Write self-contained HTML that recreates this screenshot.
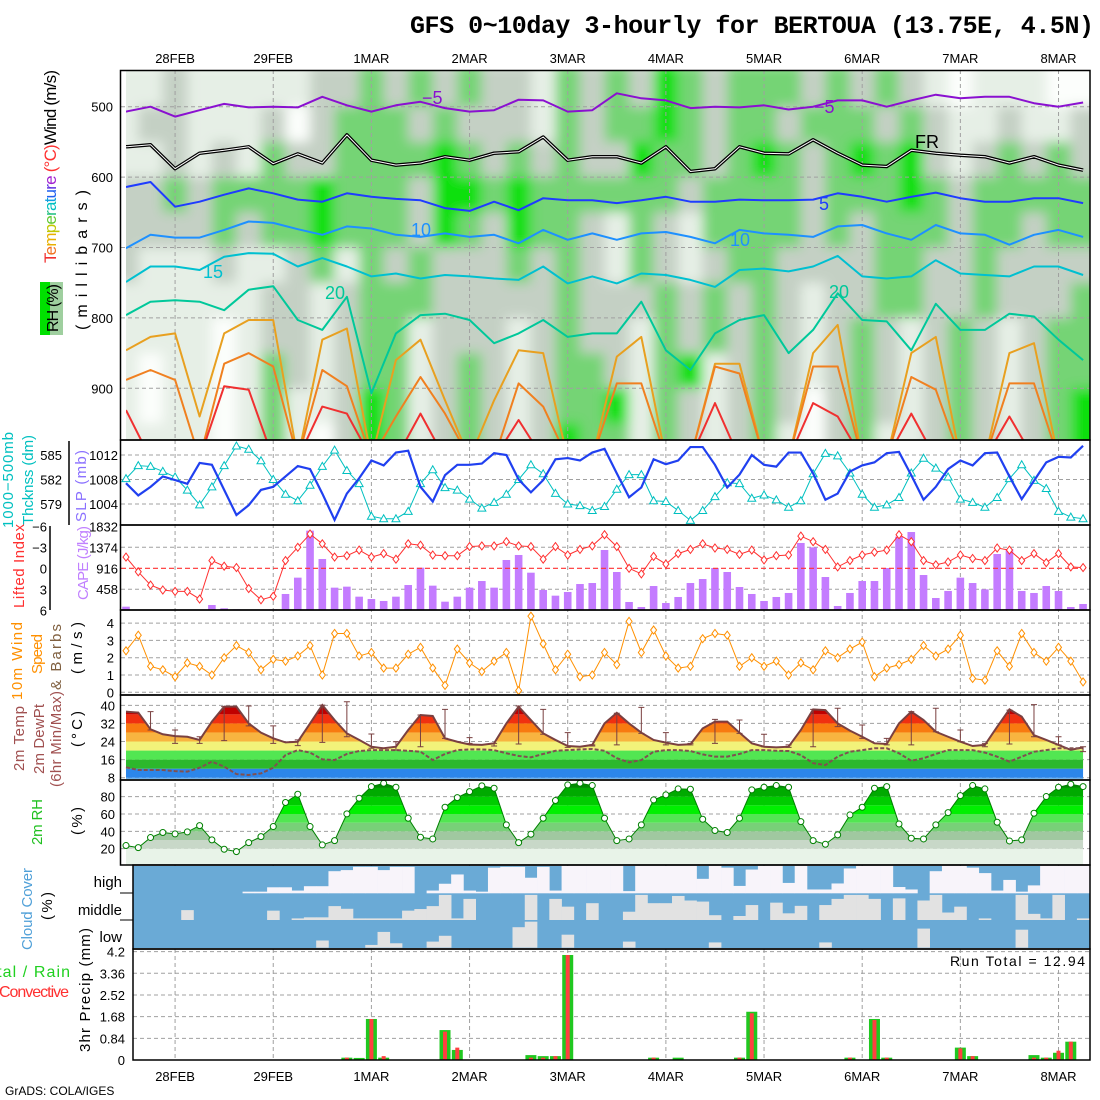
<!DOCTYPE html>
<html><head><meta charset="utf-8"><style>
html,body{margin:0;padding:0;background:#fff;}
svg{display:block;font-family:"Liberation Sans",sans-serif;}
</style></head><body>
<svg id="chart" width="1100" height="1100" viewBox="0 0 1100 1100" xmlns="http://www.w3.org/2000/svg">
<defs>
<filter id="blurf" x="-5%" y="-5%" width="110%" height="110%"><feGaussianBlur stdDeviation="6 6"/></filter>
<clipPath id="cp1"><rect x="126" y="70.5" width="964" height="369.5"/></clipPath>
<clipPath id="cp2"><rect x="121" y="441" width="969" height="84"/></clipPath>
<clipPath id="cp3"><rect x="121" y="526" width="969" height="84"/></clipPath>
<clipPath id="cp4"><rect x="121" y="611" width="969" height="84"/></clipPath>
<clipPath id="cpT"></clipPath>
<clipPath id="cpR"></clipPath>
</defs>
<rect x="0" y="0" width="1100" height="1100" fill="#fff"/>
<text x="410" y="33" font-family="Liberation Mono, monospace" font-weight="bold" font-size="25" textLength="684">GFS 0~10day 3-hourly for BERTOUA (13.75E, 4.5N)</text>
<g id="heat" clip-path="url(#cp1)"><g id="heatInner" filter="url(#blurf)"></g></g>
<g id="grid"></g>
<g id="marks"></g>
<g id="frames" fill="none" stroke="#000" stroke-width="1.5">
<rect x="120.5" y="70.5" width="969.5" height="369.5"/>
<rect x="120.5" y="440" width="969.5" height="85"/>
<rect x="120.5" y="525" width="969.5" height="85"/>
<rect x="120.5" y="610" width="969.5" height="85"/>
<rect x="120.5" y="695" width="969.5" height="85"/>
<rect x="120.5" y="780" width="969.5" height="85"/>
<rect x="133" y="865" width="957" height="84"/>
<rect x="133" y="949" width="957" height="111"/>
<line x1="69" y1="441" x2="69" y2="525"/>
<line x1="50" y1="526" x2="50" y2="610"/>
<line x1="120" y1="893" x2="133" y2="893" stroke-width="1"/>
<line x1="120" y1="920" x2="133" y2="920" stroke-width="1"/>
</g>
<g id="labels" font-size="15">
<text transform="translate(56,263) rotate(-90)" font-size="17" textLength="193"><tspan fill="#f03030">T</tspan><tspan fill="#f07020">e</tspan><tspan fill="#e8b000">m</tspan><tspan fill="#c0c800">p</tspan><tspan fill="#60c830">e</tspan><tspan fill="#20c080">r</tspan><tspan fill="#00c0c0">a</tspan><tspan fill="#10a0e0">t</tspan><tspan fill="#2060f0">u</tspan><tspan fill="#6030e0">r</tspan><tspan fill="#a020d0">e</tspan><tspan fill="#ff3030"> (°C)</tspan><tspan fill="#000">Wind (m/s)</tspan></text>
<rect x="40" y="282" width="23" height="53" fill="#9fcf9f"/>
<rect x="40" y="282" width="10" height="53" fill="#00e000"/>
<text transform="translate(58,332) rotate(-90)" font-size="16" textLength="48">RH (%)</text>
<text transform="translate(87,330) rotate(-90)" font-size="16" textLength="140">(millibars)</text>
<text transform="translate(13,528) rotate(-90)" fill="#00c0c0" textLength="96">1000−500mb</text>
<text transform="translate(33,525) rotate(-90)" fill="#00c0c0" textLength="90">Thcknss (dm)</text>
<text transform="translate(86,522) rotate(-90)" fill="#8a70ff" textLength="72">SLP (mb)</text>
<text transform="translate(24,608) rotate(-90)" fill="#ff3030" textLength="84">Lifted Index</text>
<text transform="translate(88,600) rotate(-90)" fill="#c080ff" textLength="74">CAPE (J/kg)</text>
<text transform="translate(22,700) rotate(-90)" fill="#ff9000" textLength="78">10m Wind</text>
<text transform="translate(42,674) rotate(-90)" fill="#ff9000" textLength="40">Speed</text>
<text transform="translate(61,690) rotate(-90)" fill="#806040" textLength="66">&amp; Barbs</text>
<text transform="translate(82,674) rotate(-90)" textLength="52">(m/s)</text>
<text transform="translate(24,771) rotate(-90)" fill="#a05050" textLength="65">2m Temp</text>
<text transform="translate(44,774) rotate(-90)" fill="#a05050" textLength="70">2m DewPt</text>
<text transform="translate(61,787) rotate(-90)" fill="#a05050" textLength="96">(6hr Min/Max)</text>
<text transform="translate(82,747) rotate(-90)" textLength="36">(°C)</text>
<text transform="translate(42,845) rotate(-90)" fill="#20c020" textLength="46">2m RH</text>
<text transform="translate(82,835) rotate(-90)" textLength="28">(%)</text>
<text transform="translate(32,950) rotate(-90)" fill="#50a0d8" textLength="82">Cloud Cover</text>
<text transform="translate(52,920) rotate(-90)" textLength="28">(%)</text>
<text x="122" y="887" font-size="15" text-anchor="end">high</text>
<text x="122" y="915" font-size="15" text-anchor="end">middle</text>
<text x="122" y="942" font-size="15" text-anchor="end">low</text>
<text transform="translate(90,1052) rotate(-90)" textLength="124">3hr Precip (mm)</text>
<text x="-22" y="977" font-size="16" fill="#20d020" textLength="92">Total / Rain</text>
<text x="-1" y="997" font-size="16" fill="#ff3030" textLength="70">Convective</text>
<text x="950" y="966" font-size="14" textLength="135">Run Total  =  12.94</text>
<text x="5" y="1095" font-size="12">GrADS: COLA/IGES</text>
</g>
<g id="ticks" font-size="13"></g>
</svg>
<script>
const NS = 'http://www.w3.org/2000/svg';
// ---- data (3-hourly, from 27FEB12Z, 79 steps) ----
const dayLabels = ['28FEB','29FEB','1MAR','2MAR','3MAR','4MAR','5MAR','6MAR','7MAR','8MAR'];
const dayIndex = [4,12,20,28,36,44,52,60,68,76];
const slp = [1007.4,1005.4,1006.8,1008.5,1007.9,1007.3,1010.7,1010.4,1006.3,1002.2,1003.8,1006.3,1006.8,1008.5,1010.2,1009.7,1005.7,1001.4,1005.7,1008.2,1011.1,1010.3,1012.4,1012.7,1006.8,1004.4,1008.7,1010.4,1010.4,1010.6,1012.3,1012.0,1008.0,1005.9,1007.9,1011.3,1011.5,1011.1,1012.4,1013.0,1009.0,1005.1,1006.7,1011.3,1010.5,1011.1,1013.3,1013.3,1010.4,1006.7,1008.8,1012.0,1010.4,1010.1,1012.4,1012.4,1009.0,1004.7,1005.7,1009.3,1010.3,1010.8,1012.3,1012.5,1008.7,1004.7,1006.8,1009.7,1011.1,1010.3,1012.3,1012.4,1008.5,1004.8,1007.8,1010.8,1011.7,1011.6,1013.5];
const thickness = [582.1,583.7,583.6,583.0,582.3,580.7,578.9,581.1,583.7,586.1,585.7,584.3,582.0,580.2,579.4,581.3,583.6,585.6,583.1,581.5,577.5,577.2,577.2,578.1,581.5,583.2,581.0,580.7,579.6,578.5,579.2,580.2,582.0,583.8,582.7,580.3,579.0,578.8,578.2,578.7,580.8,582.6,582.6,579.4,579.3,578.2,577.0,578.2,579.9,581.6,581.5,579.7,580.1,579.5,578.6,579.4,582.7,585.2,584.9,582.8,580.2,578.6,578.9,579.8,582.8,584.6,583.4,582.3,579.6,579.2,578.6,579.8,582.1,583.8,581.9,580.9,578.1,577.4,577.2];
const liftedIndex = [-1.6,0.5,2.4,3.1,3.3,3.3,4.4,-1.1,-0.3,-0.1,2.9,4.5,4.0,-1.1,-3.0,-4.9,-3.5,-1.6,-1.8,-2.6,-1.6,-2.1,-1.3,-3.5,-3.3,-1.9,-1.8,-1.8,-3.1,-3.2,-3.2,-3.8,-3.2,-3.1,-1.3,-3.1,-1.9,-2.7,-3.2,-4.8,-3.1,0,0.8,-1.7,-0.6,-2.1,-2.7,-3.5,-2.9,-2.7,-2.0,-2.6,-1.2,-1.8,-1.9,-4.6,-3.8,-2.7,-0.2,-1.1,-1.9,-2.3,-2.6,-4.8,-3.8,-1.1,-0.5,-0.9,-1.9,-1.4,-1.1,-2.9,-2.6,-1.1,-2.1,-0.8,-2.1,-0.2,-0.1];
const cape = [73,0,0,0,0,0,0,110,37,15,0,0,15,352,711,1744,1121,491,513,293,242,198,293,549,930,535,183,293,491,637,491,1099,1209,820,440,315,396,571,593,1319,835,176,66,527,154,286,593,681,923,835,505,352,198,286,374,1473,1377,725,88,374,637,637,923,1612,1714,769,264,418,711,593,454,1231,1341,418,374,527,418,66,132];
const windSpeed = [2.4,3.3,1.5,1.3,0.9,1.7,1.5,1.0,2.0,2.7,2.3,1.3,1.9,1.8,2.1,2.7,1.0,3.4,3.4,2.1,2.3,1.4,1.4,2.2,2.6,1.4,0.4,2.5,1.7,1.2,1.8,2.3,0.1,4.4,2.8,1.3,2.2,0.9,1.0,2.3,1.6,4.1,2.3,3.6,2.1,1.4,1.5,3.1,3.4,3.3,1.5,2.0,1.5,1.8,1.0,1.7,1.3,2.4,2.0,2.5,2.9,0.9,1.4,1.6,1.9,2.7,2.1,2.5,3.3,0.8,0.7,2.4,1.5,3.4,2.3,1.8,2.6,1.8,0.6];
const temp2m = [37.2,36.8,29.4,27.2,26.4,26.1,24.7,32.8,39.4,39.4,32.0,27.9,25.4,23.6,23.9,32.0,40.1,33.5,27.6,24.7,21.7,21.0,21.7,29.1,35.7,35.3,25.4,23.9,22.7,22.5,23.2,32.0,39.4,33.5,27.6,24.7,22.0,21.7,22.5,32.0,36.7,32.0,27.9,24.7,23.5,22.5,22.8,29.8,32.8,32.8,27.9,23.2,21.7,21.4,21.7,29.1,38.2,37.9,32.0,28.8,26.1,23.2,22.9,32.0,37.2,33.5,28.3,26.1,23.9,22.0,22.5,30.5,38.2,35.0,26.8,24.7,22.5,20.3,21.4];
const dewpt2m = [12.6,11.4,11.4,11.4,10.9,10.7,12.4,15.1,12.9,9.6,9.2,9.9,12.4,18.0,20.2,19.1,16.1,15.8,18.5,19.8,20.2,20.2,20.2,19.9,19.5,15.8,18.5,20.2,20.5,20.5,20.2,18.8,17.6,17.0,18.5,19.9,20.2,20.5,20.7,19.9,16.6,14.8,15.8,19.5,20.2,20.2,19.8,18.3,17.3,17.3,18.5,20.2,20.2,19.9,19.8,18.0,14.4,13.6,17.3,19.5,20.2,21.0,21.0,18.8,15.5,16.6,18.5,20.2,20.2,20.2,19.1,17.3,15.1,17.3,19.5,20.2,21.0,21.0,21.0];
const tMax6h = [null,37.2,29.1,26.1,39.4,39.7,30.9,24.7,40.1,41.6,27.3,23.9,35.7,38.2,25.7,23.2,39.7,38.2,27.9,22.5,36.5,39.1,27.9,23.2,33.8,33.5,27.2,22.5,38.2,38.7,31.3,25.4,37.2,38.7,29.1,23.2,37.9,40.3,26.1,21.7];
const tMin6h = [null,29.1,23.2,23.2,24.4,30.9,23.2,22.2,23.6,26.1,21.0,20.2,21.7,25.4,23.2,22.0,22.9,27.2,21.4,22.0,22.5,27.6,22.5,22.5,23.2,27.6,21.7,21.4,21.7,30.6,25.4,22.5,22.5,28.3,23.9,21.7,22.9,26.1,22.5,19.5];
const rh2m = [23.6,21.2,32.8,38.6,37.0,39.3,46.6,30.1,19.3,16.6,27.0,33.9,45.5,73.2,82.8,45.5,24.3,29.3,60.1,78.1,91.6,95.4,90.8,55.1,33.2,31.2,67.8,78.9,85.8,92.4,89.7,47.4,27.0,36.6,55.1,75.5,93.5,95.4,92.8,55.1,29.3,31.2,47.4,76.2,82.0,88.9,88.5,53.9,40.9,38.6,55.1,87.8,90.8,92.8,90.8,51.2,29.3,25.1,35.9,58.9,67.8,89.7,91.6,48.5,32.0,31.2,47.4,61.6,81.2,92.8,88.9,50.5,28.9,30.1,60.8,80.1,90.8,94.3,91.6];
const cloudHigh = [0,0,0,0,0,0,0,0,0,0,6,6,22,22,10,26,26,81,85,97,97,85,97,97,0,10,35,69,10,6,94,97,97,57,97,10,100,100,100,100,100,8,100,100,100,100,100,53,100,94,27,87,100,100,38,100,14,14,36,91,100,100,100,23,14,0,81,100,100,94,74,10,49,6,29,100,100,100,100];
const cloudMid = [0,0,0,0,0,37,0,0,0,0,0,0,35,0,6,10,10,52,42,6,6,6,6,35,41,52,94,6,79,0,0,0,0,94,0,79,50,0,63,0,0,31,94,63,63,90,73,69,18,0,15,56,0,65,25,53,0,56,79,94,94,79,0,81,0,73,94,28,50,0,6,0,0,94,23,6,94,0,6];
const cloudLow = [0,0,0,0,0,0,0,0,0,0,0,0,0,0,0,0,26,0,0,0,10,57,16,0,0,22,43,0,0,0,0,0,74,94,0,0,47,0,0,0,0,22,0,0,0,0,0,0,19,0,0,0,0,0,0,0,0,19,0,0,0,0,0,0,0,69,0,0,0,0,0,0,0,65,0,0,0,0,0];
const precipTotal = [0,0,0,0,0,0,0,0,0,0,0,0,0,0,0,0,0,0,0.09,0.08,1.59,0.09,0,0,0,0,1.16,0.39,0,0,0,0,0,0.19,0.15,0.15,4.07,0,0,0,0,0,0,0.09,0,0.09,0,0,0,0,0.09,1.87,0,0,0,0,0,0,0,0.09,0,1.59,0.09,0,0,0,0,0,0.48,0.15,0,0,0,0,0.19,0.09,0.28,0.71,0];
const precipConv = [0,0,0,0,0,0,0,0,0,0,0,0,0,0,0,0,0,0,0.09,0,1.59,0.15,0,0,0,0,1.10,0.48,0,0,0,0,0,0.09,0.09,0.15,4.07,0,0,0,0,0,0,0.09,0,0,0,0,0,0,0.09,1.81,0,0,0,0,0,0,0,0.09,0,1.55,0.09,0,0,0,0,0,0.45,0.15,0,0,0,0,0.09,0.09,0.36,0.71,0];
// upper-air RH class grid (6-hourly columns, 0=dry .. 4=saturated)
const rhLevels = [475,525,575,625,675,725,775,825,875,925,962];
const rhClassRows = [
'1121111122323232213232432333232321011100',
'1221112023332322213233432332333232112112',
'1121213223333432323224332343234342123232',
'2232333343332443433333323333233343233333',
'2222323343332432433213213333232333233233',
'2111211231323222323213212332222332232222',
'1111112212333222223222323232122332232223',
'1111012212331222123221323232123212321233',
'1011013212331232123321341232123212321233',
'1011013112431232123341321232023212321234',
'1111013102431232124331321231023112321234'];
// isotherm pressures (mb) every 6 h; 1000 = below ground
const isoMinus5 = [507,500,514,505,496,501,500,501,486,498,507,498,493,502,507,505,490,491,507,505,481,488,491,502,500,501,498,504,500,491,491,500,491,483,488,486,486,495,500,494];
const isoFreeze = [557,554,588,566,562,557,581,567,580,540,576,583,580,571,576,566,564,543,576,571,571,580,557,592,588,557,566,567,547,566,583,585,562,566,569,571,580,571,583,590];
const iso5 = [614,607,642,635,625,616,623,632,635,623,628,631,633,644,648,635,647,630,633,633,637,633,628,635,635,632,633,633,632,623,628,635,628,622,630,635,635,630,630,637];
const iso10 = [701,682,686,686,675,663,665,674,682,670,673,682,685,680,685,682,694,675,689,680,689,680,678,685,694,675,680,682,685,670,668,680,689,668,680,682,696,682,675,685];
const iso15 = [749,727,727,732,713,708,709,727,715,727,741,737,744,739,741,744,746,727,751,741,751,737,739,746,756,732,730,734,727,712,741,744,741,718,737,739,741,727,727,739];
const iso20 = [796,777,775,777,789,760,755,803,817,770,907,822,796,794,803,836,822,803,827,822,822,777,846,874,822,803,796,850,817,765,803,805,846,780,817,817,794,798,831,860];
const iso25 = [846,827,822,940,822,803,803,1000,831,815,1000,860,831,917,1000,917,846,850,1000,1000,855,827,1000,1000,865,865,1000,1000,850,810,1000,1000,850,827,1000,1000,850,836,1000,1000];
const iso30 = [888,874,888,1000,865,850,869,1000,874,897,1000,940,884,936,1000,1000,893,926,1000,1000,893,893,1000,1000,869,879,1000,1000,869,869,1000,1000,884,902,1000,1000,893,893,1000,1000];
const iso35 = [931,1000,1000,1000,897,902,1000,1000,926,936,1000,1000,936,1000,1000,1000,945,1000,1000,1000,1000,1000,1000,1000,921,1000,1000,1000,921,940,1000,1000,936,1000,1000,1000,940,1000,1000,1000];
const pTicks = [500,600,700,800,900];
const slpTicks = [1004,1008,1012];
const thkTicks = [579,582,585];
const liTicks = [-6,-3,0,3,6];
const capeTicks = [458,916,1374,1832];
const windTicks = [0,1,2,3,4];
const tempTicks = [8,16,24,32,40];
const rhTicks = [20,40,60,80];
const precipTicks = [0,0.84,1.68,2.52,3.36,4.2];

// ---- scales ----
const xi = i => 126 + 12.27 * i;
const yP = p => 106.7 + (p - 500) * 0.704;
const ySLP = v => 479.5 - (v - 1008) * 6.125;
const yThk = v => 479.5 - (v - 582) * 8.167;
const yLI = v => 568.3 + v * 7;
const yCAPE = v => 610 - v * 0.0455;
const yWind = v => 692.3 - v * 17.3;
const yT = v => 777.7 - (v - 8) * 2.262;
const yRH = v => 866 - v * 0.867;
const yPr = v => 1060 - v * 25.8;

function mk(tag, attrs, parent) {
  const e = document.createElementNS(NS, tag);
  for (const k in attrs) e.setAttribute(k, attrs[k]);
  (parent || document.getElementById('marks')).appendChild(e);
  return e;
}
const grid = document.getElementById('grid');
const marks = document.getElementById('marks');
const ticks = document.getElementById('ticks');
const heatInner = document.getElementById('heatInner');

// ---- upper-air RH heatmap ----
const rhColors = ['#fcfefc','#e6efe6','#c4d0c4','#74d474','#10e010'];
const rowEdges = [440,500,550,600,650,700,750,800,850,900,950,990];
rhClassRows.forEach((row, r) => {
  for (let c = 0; c < row.length; c++) {
    const x0 = c === 0 ? 100 : xi(2 * c) - 12.27;
    const x1 = c === row.length - 1 ? 1110 : xi(2 * c) + 12.27;
    const cell = mk('rect', {x: x0, y: yP(rowEdges[r]), width: x1 - x0 + 0.5, height: yP(rowEdges[r + 1]) - yP(rowEdges[r]) + 0.5, fill: rhColors[+row[c]]}, heatInner);
    
    
  }
});

// ---- gridlines ----
function gline(x1, y1, x2, y2, color) {
  const l = mk('line', {x1, y1, x2, y2, stroke: color || '#a0a0a0', 'stroke-width': 1, 'stroke-dasharray': '4,3'}, grid);
  
  
}
dayIndex.forEach(i => { gline(xi(i), 70, xi(i), 440); gline(xi(i), 440, xi(i), 865); gline(xi(i), 865, xi(i), 1060); });
pTicks.forEach(p => gline(121, yP(p), 1090, yP(p)));
slpTicks.forEach(v => gline(121, ySLP(v), 1090, ySLP(v)));
[-3, 3].forEach(v => gline(121, yLI(v), 1090, yLI(v)));
windTicks.forEach(v => gline(121, yWind(v), 1090, yWind(v)));
tempTicks.forEach(v => gline(121, yT(v), 1090, yT(v)));
rhTicks.forEach(v => gline(121, yRH(v), 1090, yRH(v)));
precipTicks.slice(1).forEach(v => gline(133, yPr(v), 1090, yPr(v)));
gline(133, 893, 1090, 893, '#888');
gline(133, 920, 1090, 920, '#888');

// ---- tick labels ----
function tlabel(x, y, s, anchor, color) {
  const t = mk('text', {x, y, 'text-anchor': anchor || 'end', fill: color || '#000', 'font-size': 13}, ticks);
  t.textContent = s;
  
  
}
pTicks.forEach(p => tlabel(113, yP(p) + 5, p));
slpTicks.forEach(v => tlabel(118, ySLP(v) + 5, v));
thkTicks.forEach(v => tlabel(62, yThk(v) + 5, v));
liTicks.forEach(v => tlabel(47, yLI(v) + 5, v === 0 ? '0' : (v < 0 ? '−' + (-v) : v)));
capeTicks.forEach(v => tlabel(118, yCAPE(v) + 5, v));
windTicks.forEach(v => tlabel(114, yWind(v) + 5, v));
tempTicks.forEach(v => tlabel(115, yT(v) + 5, v));
rhTicks.forEach(v => tlabel(115, yRH(v) + 5, v));
precipTicks.forEach(v => tlabel(125, yPr(v) + 5, v));
dayLabels.forEach((d, k) => { tlabel(xi(dayIndex[k]), 63, d, 'middle'); tlabel(xi(dayIndex[k]), 1081, d, 'middle'); });

// ---- upper-air isotherms ----
const upperG = mk('g', {'clip-path': 'url(#cp1)'});


function isoLine(arr, color, w, name) {
  const pts = arr.map((p, c) => xi(2 * c).toFixed(1) + ',' + yP(p).toFixed(1)).join(' ');
  const l = mk('polyline', {points: pts, fill: 'none', stroke: color, 'stroke-width': w, 'stroke-linejoin': 'round'}, upperG);
  
  
}
isoLine(isoMinus5, '#8a10d0', 2, 'isotherm-minus5');
isoLine(isoFreeze, '#000', 3.5, 'freezing-level');
isoLine(isoFreeze, '#fff', 1, 'freezing-level-inner');
isoLine(iso5, '#1e3cff', 2, 'isotherm-5');
isoLine(iso10, '#1e90ff', 2, 'isotherm-10');
isoLine(iso15, '#00c0d0', 2, 'isotherm-15');
isoLine(iso20, '#00c89a', 2, 'isotherm-20');
isoLine(iso25, '#e8a020', 2, 'isotherm-25');
isoLine(iso30, '#f08020', 2, 'isotherm-30');
isoLine(iso35, '#f03030', 2, 'isotherm-35');
function isoLabel(x, y, s, color, name) {
  const t = mk('text', {x, y, fill: color, 'font-size': 18}, upperG);
  t.textContent = s;
  
  
}
isoLabel(422, 104, '−5', '#8a10d0', 'label-minus5');
isoLabel(814, 113, '−5', '#8a10d0', 'label-minus5-b');
isoLabel(915, 148, 'FR', '#000', 'label-freeze');
isoLabel(819, 210, '5', '#1e3cff', 'label-5');
isoLabel(411, 236, '10', '#1e90ff', 'label-10');
isoLabel(730, 246, '10', '#1e90ff', 'label-10-b');
isoLabel(203, 278, '15', '#00c0d0', 'label-15');
isoLabel(325, 299, '20', '#00c89a', 'label-20');
isoLabel(829, 298, '20', '#00c89a', 'label-20-b');

// ---- panel 2: SLP & thickness ----
const p2 = mk('g', {'clip-path': 'url(#cp2)'});


const thkLine = mk('polyline', {points: thickness.map((v, i) => xi(i) + ',' + yThk(v)).join(' '), fill: 'none', stroke: '#00c0c0', 'stroke-width': 1}, p2);


thickness.forEach((v, i) => {
  const x = xi(i), y = yThk(v);
  const m = mk('polygon', {points: `${x},${y - 4} ${x - 4},${y + 3} ${x + 4},${y + 3}`, fill: '#fff', stroke: '#00c0c0', 'stroke-width': 1}, p2);
  
  
});
const slpLine = mk('polyline', {points: slp.map((v, i) => xi(i) + ',' + ySLP(v)).join(' '), fill: 'none', stroke: '#2040f0', 'stroke-width': 2.2}, p2);



// ---- panel 3: CAPE & LI ----
const p3 = mk('g', {'clip-path': 'url(#cp3)'});


cape.forEach((v, i) => {
  if (v <= 0) return;
  const b = mk('rect', {x: xi(i) - 3.8, y: yCAPE(v), width: 7.6, height: 610 - yCAPE(v), fill: '#c47cff'}, p3);
  
  
});
const li0 = mk('line', {x1: 121, y1: yLI(0), x2: 1090, y2: yLI(0), stroke: '#ff3030', 'stroke-width': 1.2, 'stroke-dasharray': '5,3'}, p3);


const liLine = mk('polyline', {points: liftedIndex.map((v, i) => xi(i) + ',' + yLI(v)).join(' '), fill: 'none', stroke: '#ff3030', 'stroke-width': 1}, p3);


liftedIndex.forEach((v, i) => {
  const x = xi(i), y = yLI(v);
  const m = mk('polygon', {points: `${x},${y - 4} ${x + 3},${y} ${x},${y + 4} ${x - 3},${y}`, fill: '#fff', stroke: '#ff3030', 'stroke-width': 1}, p3);
  
  
});

// ---- panel 4: wind speed ----
const p4 = mk('g', {'clip-path': 'url(#cp4)'});


const wLine = mk('polyline', {points: windSpeed.map((v, i) => xi(i) + ',' + yWind(v)).join(' '), fill: 'none', stroke: '#ff9000', 'stroke-width': 1}, p4);


windSpeed.forEach((v, i) => {
  const x = xi(i), y = yWind(v);
  const m = mk('polygon', {points: `${x},${y - 4} ${x + 3},${y} ${x},${y + 4} ${x - 3},${y}`, fill: '#fff', stroke: '#ff9000', 'stroke-width': 1}, p4);
  
  
});

// ---- panel 5: temperature ----
const tPoly = 'M' + xi(0) + ',779 ' + temp2m.map((v, i) => 'L' + xi(i) + ',' + yT(v)).join(' ') + ' L' + xi(78) + ',779 Z';
const cpT = document.getElementById('cpT');
const cpTp = mk('path', {d: tPoly}, cpT);


const tBands = [[-10,8,'#70b4ee'],[8,12,'#2c86ea'],[12,16,'#2cb82c'],[16,20,'#52e652'],[20,24,'#f2f27a'],[24,28,'#f8b440'],[28,32,'#f87a10'],[32,36,'#f03010'],[36,50,'#c00000']];
const tG = mk('g', {'clip-path': 'url(#cpT)'});


tBands.forEach(b => {
  const y0 = Math.max(696, yT(b[1])), y1 = Math.min(780, yT(b[0]));
  const r = mk('rect', {x: 121, y: y0, width: 969, height: Math.max(0, y1 - y0), fill: b[2]}, tG);
  
  
});
const tLine = mk('polyline', {points: temp2m.map((v, i) => xi(i) + ',' + yT(v)).join(' '), fill: 'none', stroke: '#7a4040', 'stroke-width': 2});


const dLine = mk('polyline', {points: dewpt2m.map((v, i) => xi(i) + ',' + yT(v)).join(' '), fill: 'none', stroke: '#805050', 'stroke-width': 2, 'stroke-dasharray': '4,2'});


tMax6h.forEach((mx, j) => {
  if (mx === null) return;
  const x = xi(2 * j), yA = yT(mx), yB = yT(tMin6h[j]);
  const e = mk('path', {d: `M${x},${yA} L${x},${yB} M${x - 3},${yA} L${x + 3},${yA} M${x - 3},${yB} L${x + 3},${yB}`, stroke: '#7a4040', 'stroke-width': 1, fill: 'none'});
  
  
});

// ---- panel 6: RH ----
const rPoly = 'M' + xi(0) + ',865 ' + rh2m.map((v, i) => 'L' + xi(i) + ',' + yRH(v)).join(' ') + ' L' + xi(78) + ',865 Z';
const cpR = document.getElementById('cpR');
const cpRp = mk('path', {d: rPoly}, cpR);


const rBands = [[0,20,'#e8f3e8'],[20,30,'#c8d8c8'],[30,40,'#a0c8a0'],[40,50,'#78d078'],[50,60,'#52e652'],[60,70,'#00f000'],[70,80,'#00cc00'],[80,90,'#00aa00'],[90,101,'#008c00']];
const rG = mk('g', {'clip-path': 'url(#cpR)'});


rBands.forEach(b => {
  const y0 = yRH(b[1]), y1 = yRH(b[0]);
  const r = mk('rect', {x: 121, y: y0, width: 969, height: y1 - y0, fill: b[2]}, rG);
  
  
});
const rLine = mk('polyline', {points: rh2m.map((v, i) => xi(i) + ',' + yRH(v)).join(' '), fill: 'none', stroke: '#008000', 'stroke-width': 1});


rh2m.forEach((v, i) => {
  const c = mk('circle', {cx: xi(i), cy: yRH(v), r: 3, fill: '#fff', stroke: '#008000', 'stroke-width': 1});
  
  
});

// ---- panel 7: cloud cover ----
const cBg = mk('rect', {x: 133, y: 866, width: 957, height: 82, fill: '#6aaad6'});


const cloudRows = [[cloudHigh, 866, 893.3, '#f8f4fa', 'cloud-high-cell'], [cloudMid, 893.3, 920, '#e2e2e2', 'cloud-mid-cell'], [cloudLow, 920, 947.7, '#e2e2e2', 'cloud-low-cell']];
cloudRows.forEach(row => {
  const arr = row[0], top = row[1], bot = row[2];
  arr.forEach((v, i) => {
    if (v <= 0) return;
    const x0 = Math.max(133, xi(i) - 6.14), x1 = Math.min(1090, xi(i) + 6.14);
    const h = (bot - top) * v / 100;
    const r = mk('rect', {x: x0, y: bot - h, width: x1 - x0 + 0.3, height: h, fill: row[3]});
    
    
  });
});

// ---- panel 8: precip ----
precipTotal.forEach((v, i) => {
  if (v <= 0) return;
  const b = mk('rect', {x: xi(i) - 5.5, y: yPr(v), width: 11, height: 1060 - yPr(v), fill: '#20c820'});
  
  
});
precipConv.forEach((v, i) => {
  if (v <= 0) return;
  const b = mk('rect', {x: xi(i) - 2, y: yPr(v), width: 4, height: 1060 - yPr(v), fill: '#ff4040'});
  
  
});
</script>
</body></html>
